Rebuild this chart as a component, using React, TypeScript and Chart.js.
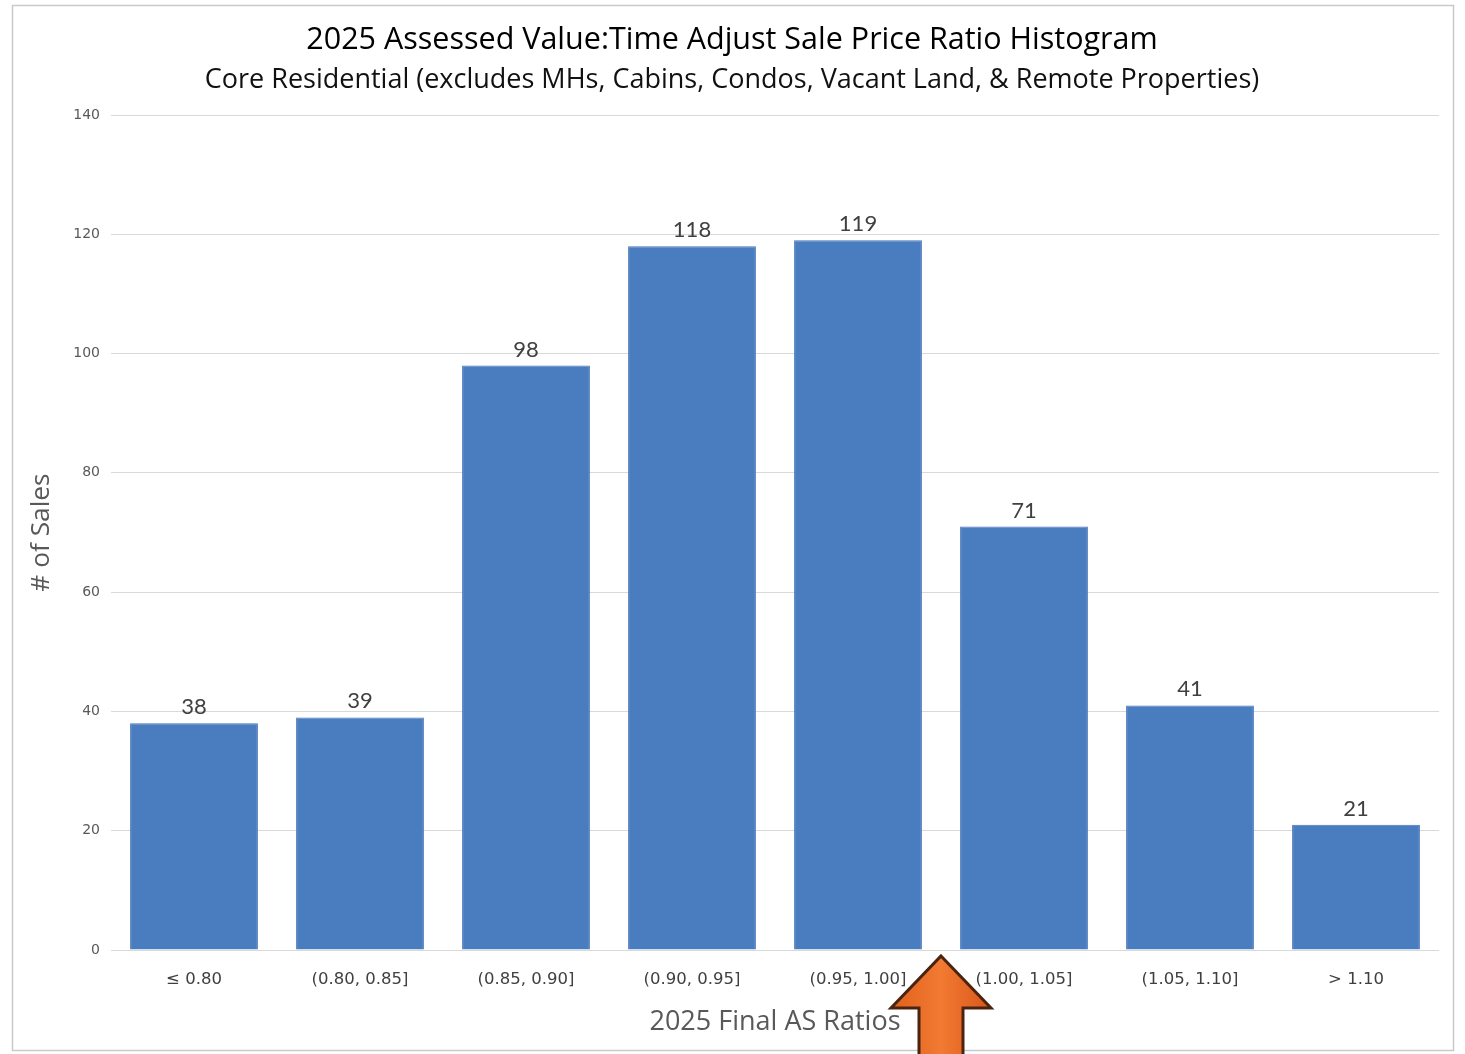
import React, { useEffect, useRef } from 'react';
import { Chart, registerables } from 'chart.js';

Chart.register(...registerables);

// ---- data ----
const categories = ['≤ 0.80', '(0.80, 0.85]', '(0.85, 0.90]', '(0.90, 0.95]', '(0.95, 1.00]', '(1.00, 1.05]', '(1.05, 1.10]', '> 1.10'];
const salesCounts = [38, 39, 98, 118, 119, 71, 41, 21];
const yTickMin = 0;
const yTickMax = 140;
const yTickStep = 20;
const titleText = '2025 Assessed Value:Time Adjust Sale Price Ratio Histogram';
const subtitleText = 'Core Residential (excludes MHs, Cabins, Condos, Vacant Land, & Remote Properties)';
const xAxisTitle = '2025 Final AS Ratios';
const yAxisTitle = '# of Sales';
const arrowBetweenBins = [4, 5];

const W = 1465;
const H = 1054;

const framePlugin = {
  id: 'frame',
  beforeDraw(chart: any) {
    const ctx = chart.ctx;
    ctx.save();
    ctx.fillStyle = '#ffffff';
    ctx.fillRect(0, 0, chart.width, chart.height);
    ctx.strokeStyle = '#c9c9c9';
    ctx.lineWidth = 1.5;
    ctx.strokeRect(12.5, 5.5, chart.width - 24, chart.height - 9);
    ctx.restore();
  },
};

const valueLabelPlugin = {
  id: 'valueLabels',
  afterDatasetsDraw(chart: any) {
    const ctx = chart.ctx;
    const meta = chart.getDatasetMeta(0);
    ctx.save();
    ctx.font = '22px Lato, "Noto Sans", sans-serif';
    ctx.fillStyle = '#404040';
    ctx.textAlign = 'center';
    ctx.textBaseline = 'alphabetic';
    meta.data.forEach((bar: any, i: number) => {
      ctx.fillText(String(chart.data.datasets[0].data[i]), bar.x, bar.y - 9);
    });
    ctx.restore();
  },
};

const arrowPlugin = {
  id: 'arrow',
  afterDraw(chart: any) {
    const ctx = chart.ctx;
    const xs = chart.scales.x;
    const area = chart.chartArea;
    const cx = (xs.getPixelForValue(arrowBetweenBins[0]) + xs.getPixelForValue(arrowBetweenBins[1])) / 2;
    const tipY = area.bottom + 6;
    const headBaseY = tipY + 52;
    const headHalf = 50;
    const shaftHalf = 22;
    const bottomY = chart.height + 2;
    ctx.save();
    ctx.beginPath();
    ctx.moveTo(cx, tipY);
    ctx.lineTo(cx + headHalf, headBaseY);
    ctx.lineTo(cx + shaftHalf, headBaseY);
    ctx.lineTo(cx + shaftHalf, bottomY);
    ctx.lineTo(cx - shaftHalf, bottomY);
    ctx.lineTo(cx - shaftHalf, headBaseY);
    ctx.lineTo(cx - headHalf, headBaseY);
    ctx.closePath();
    const g = ctx.createLinearGradient(cx - headHalf, 0, cx + headHalf, 0);
    g.addColorStop(0, '#e0601c');
    g.addColorStop(0.5, '#f27a32');
    g.addColorStop(1, '#d9571a');
    ctx.fillStyle = g;
    ctx.fill();
    ctx.lineJoin = 'miter';
    ctx.strokeStyle = '#4b2410';
    ctx.lineWidth = 3;
    ctx.stroke();
    ctx.restore();
  },
};

export default function App() {
  const canvasRef = useRef<HTMLCanvasElement | null>(null);

  useEffect(() => {
    if (!canvasRef.current) return;
    const chart = new Chart(canvasRef.current, {
      type: 'bar',
      data: {
        labels: categories,
        datasets: [
          {
            label: yAxisTitle,
            data: salesCounts,
            backgroundColor: '#4a7dc0',
            borderColor: '#4574b6',
            borderWidth: 1,
            categoryPercentage: 1,
            barPercentage: 0.77,
          },
        ],
      },
      options: {
        responsive: false,
        animation: false,
        devicePixelRatio: 1,
        layout: { padding: { left: 25, right: 26, top: 5, bottom: 0 } },
        plugins: {
          legend: { display: false },
          tooltip: { enabled: false },
          title: {
            display: true,
            text: titleText,
            color: '#000000',
            font: { family: '"Open Sans", sans-serif', size: 30.5, weight: 'normal', lineHeight: 1.2 },
            padding: { top: 16.7, bottom: 2.5 },
          },
          subtitle: {
            display: true,
            text: subtitleText,
            color: '#111111',
            font: { family: '"Open Sans", sans-serif', size: 27, weight: 'normal', lineHeight: 1.2 },
            padding: { top: 3, bottom: 18.8 },
          },
        },
        scales: {
          x: {
            grid: { display: false },
            border: { display: false },
            ticks: {
              color: '#404040',
              font: { family: '"DejaVu Sans", sans-serif', size: 16.5 },
              padding: 12,
              maxRotation: 0,
            },
            title: {
              display: true,
              text: xAxisTitle,
              color: '#595959',
              font: { family: '"Open Sans", sans-serif', size: 27 },
              padding: { top: 0, bottom: 15.8 },
            },
            afterFit(scale: any) {
              scale.height = 104;
            },
          },
          y: {
            min: yTickMin,
            max: yTickMax,
            ticks: {
              stepSize: yTickStep,
              color: '#595959',
              font: { family: '"DejaVu Sans", sans-serif', size: 14 },
              padding: 11,
            },
            grid: { color: '#d9d9d9', lineWidth: 1, drawTicks: false },
            border: { display: false },
            title: {
              display: true,
              text: yAxisTitle,
              color: '#595959',
              font: { family: '"Open Sans", sans-serif', size: 26.3 },
              padding: { top: 1.2, bottom: 0 },
            },
            afterFit(scale: any) {
              scale.width = 86;
            },
          },
        },
      },
      plugins: [framePlugin, valueLabelPlugin, arrowPlugin],
    });
    return () => chart.destroy();
  }, []);

  return (
    <div style={{ position: 'fixed', left: 0, top: 0, width: W, height: H, background: '#ffffff' }}>
      <canvas ref={canvasRef} width={W} height={H} style={{ display: 'block' }} />
    </div>
  );
}
